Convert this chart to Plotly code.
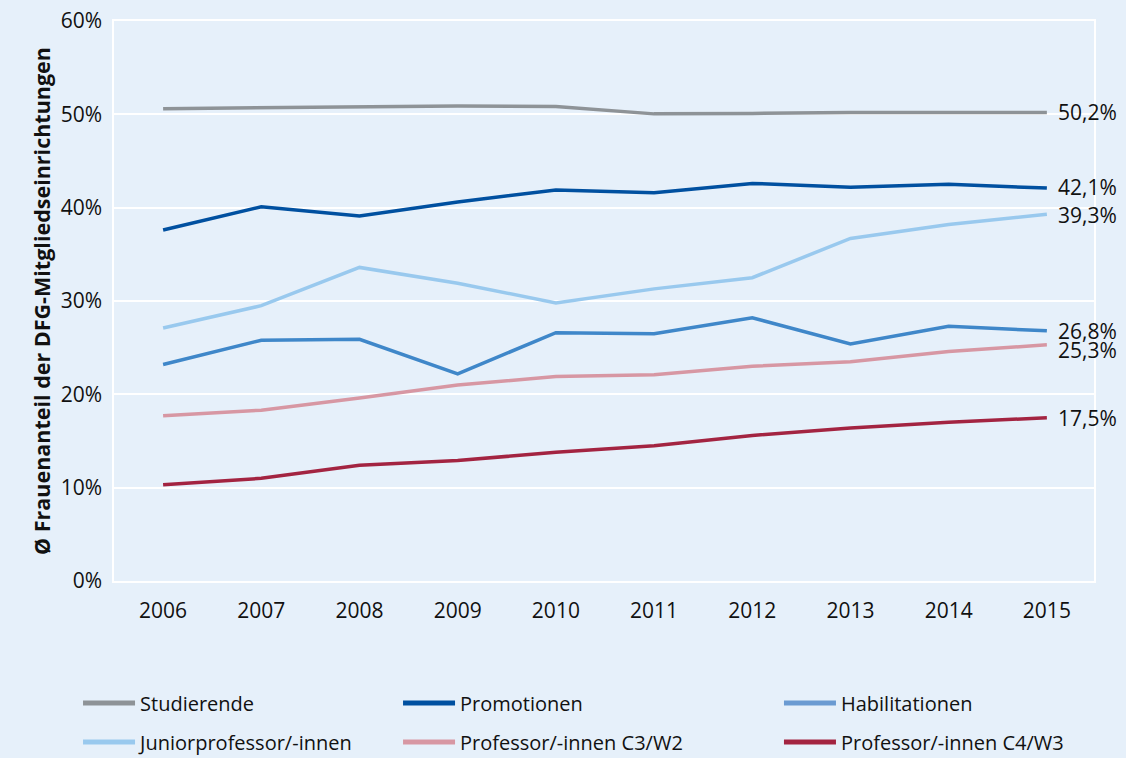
import plotly.graph_objects as go

years = [2006, 2007, 2008, 2009, 2010, 2011, 2012, 2013, 2014, 2015]

series_names = ["Studierende", "Promotionen", "Habilitationen",
                "Juniorprofessor/-innen", "Professor/-innen C3/W2", "Professor/-innen C4/W3"]

studierende = [50.6, 50.7, 50.75, 50.9, 50.85, 50.05, 50.1, 50.2, 50.2, 50.2]
promotionen = [37.6, 40.1, 39.1, 40.6, 41.9, 41.6, 42.6, 42.2, 42.5, 42.1]
habilitationen = [23.2, 25.8, 25.9, 22.2, 26.6, 26.5, 28.2, 25.4, 27.3, 26.8]
junior = [27.1, 29.5, 33.6, 31.9, 29.8, 31.3, 32.5, 36.7, 38.2, 39.3]
c3w2 = [17.7, 18.3, 19.6, 21.0, 21.9, 22.1, 23.0, 23.5, 24.6, 25.3]
c4w3 = [10.3, 11.0, 12.4, 12.9, 13.8, 14.5, 15.6, 16.4, 17.0, 17.5]

y_ticks = [0, 10, 20, 30, 40, 50, 60]
y_tick_labels = ["0%", "10%", "20%", "30%", "40%", "50%", "60%"]

all_values = [studierende, promotionen, habilitationen, junior, c3w2, c4w3]
colors = ["#8e9397", "#0050a0", "#3f87c9", "#99c9ee", "#d797a3", "#a32441"]
legend_colors = ["#8e9397", "#0050a0", "#6b9bd2", "#99c9ee", "#d797a3", "#a32441"]
label_shift = [0, 1, 0, -1, -5, 0]

# legend slots: (legend id, x in container fraction, y in container fraction)
legend_ids = ["legend", "legend2", "legend3", "legend4", "legend5", "legend6"]
legend_x = [0.0693, 0.3535, 0.6918, 0.0693, 0.3535, 0.6918]
legend_y = [0.0726, 0.0726, 0.0726, 0.021, 0.021, 0.021]

FONT = "Open Sans, Noto Sans, sans-serif"
FS = 21

fig = go.Figure()
for name, vals, col in zip(series_names, all_values, colors):
    fig.add_trace(go.Scatter(x=years, y=vals, mode="lines", name=name,
                             line=dict(color=col, width=3.5), showlegend=False))

for name, col, lg in zip(series_names, legend_colors, legend_ids):
    fig.add_trace(go.Scatter(x=[None], y=[None], mode="lines", name=name,
                             line=dict(color=col, width=5), legend=lg))

for vals, col, ys in zip(all_values, colors, label_shift):
    fig.add_annotation(x=years[-1], y=vals[-1], text=f"{vals[-1]:.1f}%".replace(".", ","),
                       showarrow=False, xanchor="left", yanchor="middle", xshift=9, yshift=ys,
                       font=dict(size=21, color="#111111", family=FONT))

legends = {}
for lg, lx, ly in zip(legend_ids, legend_x, legend_y):
    legends[lg] = dict(orientation="h", xref="container", yref="container",
                       xanchor="left", x=lx, yanchor="middle", y=ly,
                       font=dict(size=20, color="#111111", family=FONT),
                       bgcolor="rgba(0,0,0,0)", itemwidth=52)

fig.update_layout(
    width=1126, height=758,
    paper_bgcolor="#e6f0fa", plot_bgcolor="#e6f0fa",
    margin=dict(l=114, r=32, t=21, b=177, autoexpand=False),
    font=dict(family=FONT, size=FS, color="#111111"),
    xaxis=dict(range=[2005.5, 2015.48], tickvals=years, ticktext=[str(y) for y in years],
               showgrid=False, zeroline=False, showline=True, linecolor="white", linewidth=1.5,
               mirror=True, ticks="", ticklabelstandoff=10, automargin=False,
               tickfont=dict(size=FS, family=FONT)),
    yaxis=dict(range=[0, 60], tickvals=y_ticks, ticktext=y_tick_labels,
               showgrid=True, gridcolor="white", gridwidth=1.5, zeroline=False,
               showline=True, linecolor="white", linewidth=1.5, mirror=True, ticks="",
               ticklabelstandoff=6, automargin=False, tickfont=dict(size=FS, family=FONT),
               title=dict(text="<b>Ø Frauenanteil der DFG-Mitgliedseinrichtungen</b>",
                          font=dict(size=21.5, family=FONT), standoff=4)),
    **legends,
)

fig.write_html("out.html", config={"displayModeBar": False},
               post_script="document.body.style.margin='0';document.body.style.overflow='hidden';")
